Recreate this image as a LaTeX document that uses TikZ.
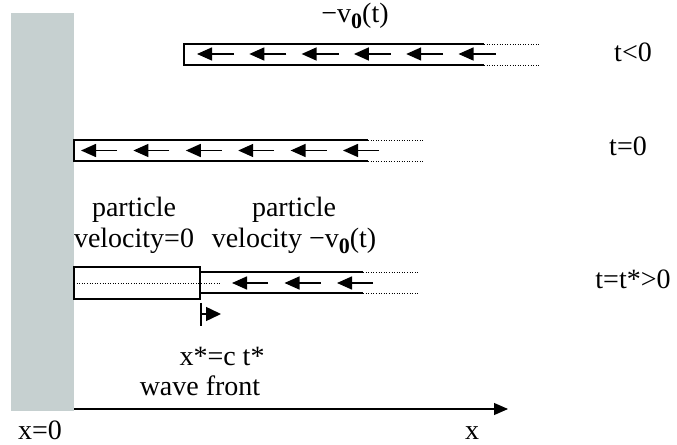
\documentclass[tikz,border=0pt]{standalone}
\usepackage{fontspec}
\setmainfont{Liberation Serif}
\usetikzlibrary{arrows.meta}
\definecolor{wallgray}{RGB}{198,208,208}
\newcommand{\vnull}{v\raisebox{-0.22em}{\fontsize{22bp}{22bp}\selectfont\bfseries 0}}
\tikzset{
  wall/.style={fill=wallgray, draw=none},
  barline/.style={line width=1.5bp},
  edgeline/.style={line width=1.1bp},
  dots/.style={dotted, line width=0.6bp},
  flow/.style={-{Triangle[length=15bp,width=13bp]}, line width=1.5bp},
  axisline/.style={-{Triangle[length=14bp,width=12bp]}, line width=1.1bp},
  lbl/.style={font=\fontsize{28bp}{31bp}\selectfont, inner sep=0pt, align=center},
}
\begin{document}
\begin{tikzpicture}[x=1bp,y=-1bp]
\useasboundingbox (0,0) rectangle (677,445);
% wall
\fill[wall] (11,13) rectangle (74,411);
% axis
\coordinate (ax0) at (74,409);
\coordinate (ax1) at (508,409);
\draw[axisline] (ax0) -- (ax1);
\node[lbl, anchor=base] (x0) at (40,439) {x=0};
\node[lbl, anchor=base] (xl) at (472,439) {x};

% bar 1 (t<0)
\draw[barline] (484,44) -- (184,44) -- (184,65) -- (484,65);
\draw[dots] (484,44) -- (540,44) (484,65) -- (540,65);
\foreach \t in {197,249.3,301.6,353.9,406.2,458.5}
  \draw[flow] (\t+37,54) -- (\t,54);
\node[lbl] (v1) at (355,16) {−\vnull(t)};
\node[lbl] (t1) at (633,52) {t<0};

% bar 2 (t=0)
\draw[barline] (368,140) -- (74,140) -- (74,161) -- (368,161);
\draw[dots] (368,140) -- (425,140) (368,161) -- (425,161);
\foreach \t in {81,133.4,185.8,238.2,290.6,343}
  \draw[flow] (\t+36,150.5) -- (\t,150.5);
\node[lbl] (t2) at (628,146) {t=0};

% bar 3 (t=t*>0)
\draw[edgeline] (74,267) rectangle (200,299);
\draw[dots] (74,283) -- (220,283);
\draw[barline] (200,272) -- (363,272) (200,293) -- (363,293);
\draw[dots] (363,272) -- (420,272) (363,293) -- (420,293);
\foreach \t in {232,284.5,337}
  \draw[flow] (\t+36,283) -- (\t,283);
\node[lbl] (t3) at (633,279) {t=t*>0};

\node[lbl] (p0) at (134,225) {particle\\velocity=0};
\node[lbl] (p1) at (294,225) {particle\\velocity −\vnull(t)};

% wave front marker
\coordinate (wf) at (201,314);
\draw[line width=2.4bp] (201,303) -- (201,326);
\draw[-{Triangle[length=15bp,width=14bp]}, line width=1.5bp] (wf) -- (221,314);
\node[lbl] (xs) at (222,356) {x*=c t*};
\node[lbl] (wft) at (200,386) {wave front};
\end{tikzpicture}
\end{document}
